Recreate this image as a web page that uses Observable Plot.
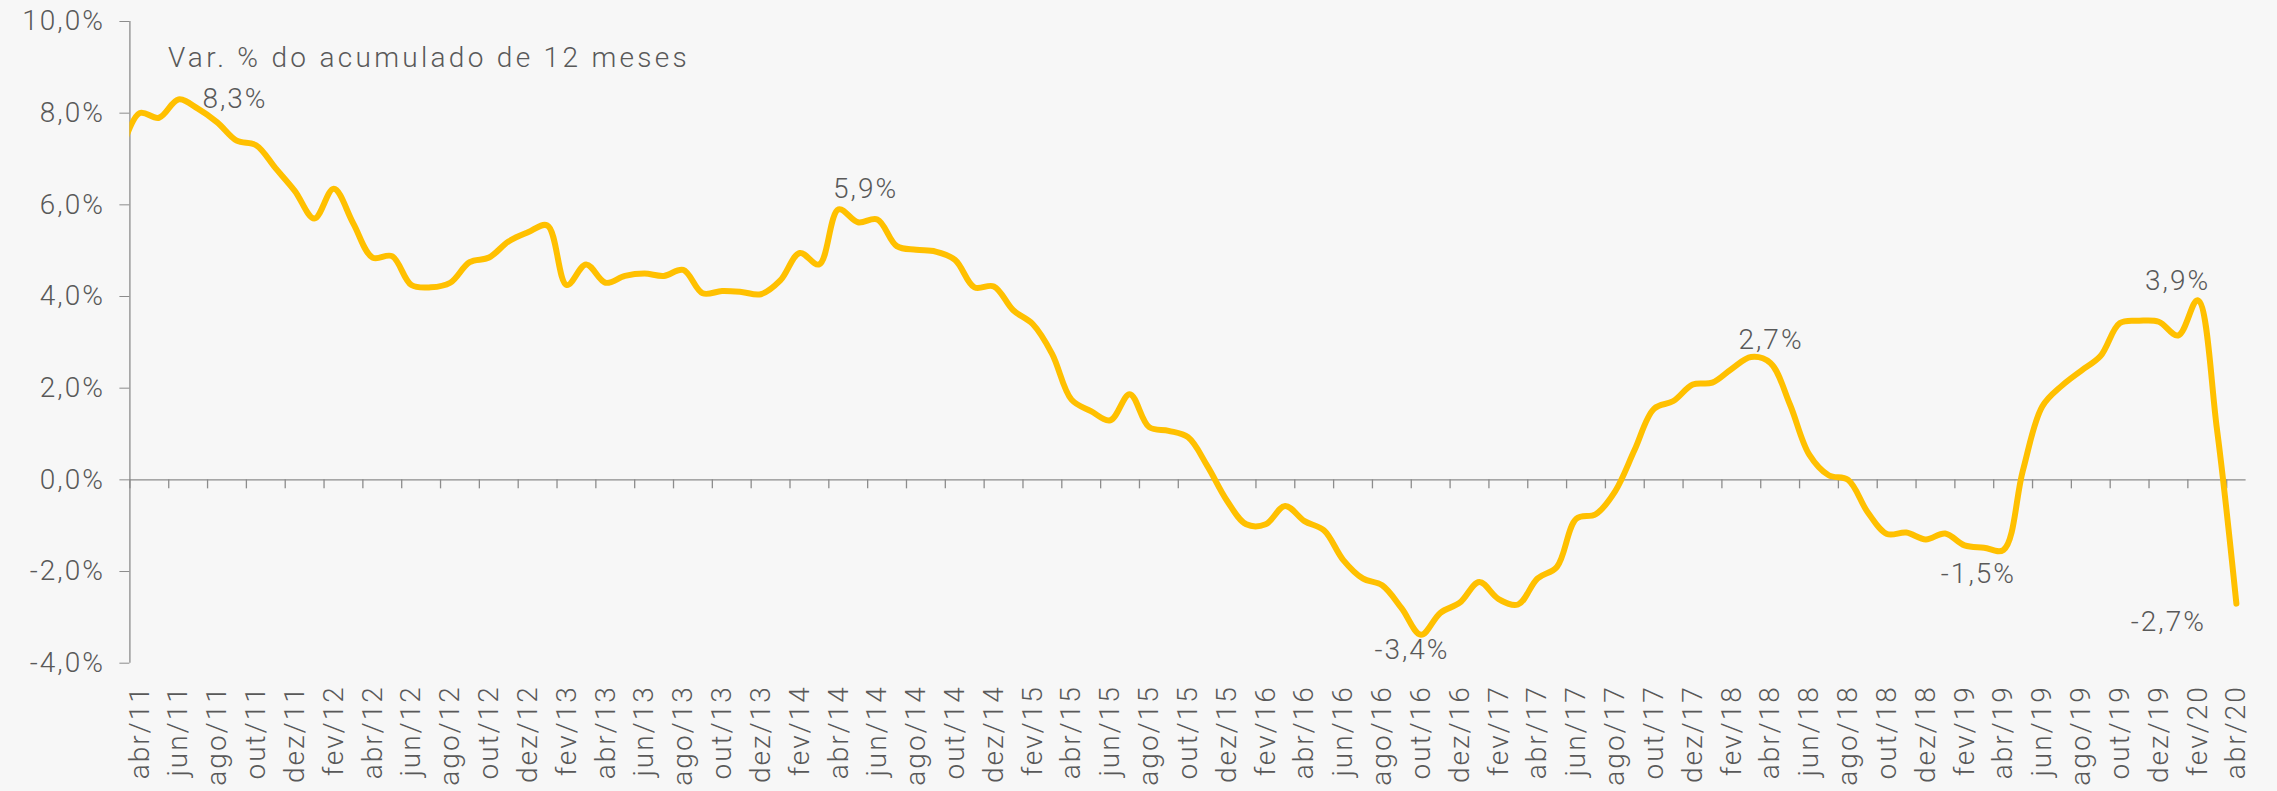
<!DOCTYPE html>
<html>
<head>
<meta charset="utf-8">
<script src="https://cdn.jsdelivr.net/npm/d3@7"></script>
<script src="https://cdn.jsdelivr.net/npm/@observablehq/plot@0.6"></script>
<style>
  html, body { margin: 0; padding: 0; background: #f7f7f7; }
  #chart svg text { letter-spacing: 2px; }
  #chart svg g.chart-title text { letter-spacing: 3.3px; }
</style>
</head>
<body>
<div id="chart"></div>
<script>
// ---- data ----
const monthNames = ["jan", "fev", "mar", "abr", "mai", "jun", "jul", "ago", "set", "out", "nov", "dez"];
// Var. % do acumulado de 12 meses (2011 starts at mar/11, which sits just left of the axis)
const v2011 = [7.1, 8.0, 7.9, 8.3, 8.1, 7.8, 7.4, 7.3, 6.8, 6.3];
const v2012 = [5.7, 6.35, 5.6, 4.85, 4.88, 4.25, 4.2, 4.3, 4.75, 4.85, 5.2, 5.4];
const v2013 = [5.55, 4.25, 4.7, 4.3, 4.45, 4.5, 4.45, 4.58, 4.07, 4.12, 4.1, 4.05];
const v2014 = [4.35, 4.95, 4.7, 5.9, 5.62, 5.68, 5.1, 5.02, 4.98, 4.8, 4.2, 4.22];
const v2015 = [3.7, 3.4, 2.75, 1.75, 1.5, 1.3, 1.87, 1.15, 1.07, 0.93, 0.3, -0.45];
const v2016 = [-0.97, -0.97, -0.57, -0.9, -1.1, -1.75, -2.15, -2.3, -2.8, -3.38, -2.9, -2.68];
const v2017 = [-2.23, -2.6, -2.72, -2.15, -1.9, -0.85, -0.75, -0.25, 0.65, 1.55, 1.72, 2.08];
const v2018 = [2.12, 2.42, 2.68, 2.55, 1.65, 0.55, 0.1, 0.0, -0.7, -1.18, -1.15, -1.3];
const v2019 = [-1.17, -1.43, -1.48, -1.53, 0.2, 1.6, 2.05, 2.38, 2.7, 3.42, 3.47, 3.45];
const v2020 = [3.15, 3.92, 1.1, -2.7];
const yearSeries = [
  {yy: "11", first: 2, values: v2011},
  {yy: "12", first: 0, values: v2012},
  {yy: "13", first: 0, values: v2013},
  {yy: "14", first: 0, values: v2014},
  {yy: "15", first: 0, values: v2015},
  {yy: "16", first: 0, values: v2016},
  {yy: "17", first: 0, values: v2017},
  {yy: "18", first: 0, values: v2018},
  {yy: "19", first: 0, values: v2019},
  {yy: "20", first: 0, values: v2020}
];
const yTicks = [-4, -2, 0, 2, 4, 6, 8, 10];
const title = "Var. % do acumulado de 12 meses";

// ---- build table ----
const data = [];
yearSeries.forEach(s => s.values.forEach((v, k) => {
  data.push({label: monthNames[s.first + k] + "/" + s.yy, v});
}));
data.forEach((d, j) => d.i = j - 1); // abr/11 -> 0
const shown = data.filter(d => d.i >= 0);
const axisLabels = shown.filter(d => d.i % 2 === 0);
const boundaries = axisLabels.map(d => d.i - 0.5);
const nCat = shown.length;
const fmt = v => v.toFixed(1).replace(".", ",") + "%";
const pt = lab => data.filter(d => d.label === lab);

const textColor = "#595959";
const axisColor = "#8c8c8c";
const fs = 28;

function note(lab, dx, dy, anchor = "middle") {
  return Plot.text(pt(lab), {x: "i", y: "v", text: d => fmt(d.v), dx, dy,
    textAnchor: anchor, lineAnchor: "middle", fill: textColor, fontSize: fs, fontWeight: 300});
}

const chart = Plot.plot({
  width: 2277,
  height: 791,
  marginTop: 21,
  marginBottom: 128.3,
  marginLeft: 129.4,
  marginRight: 31.4,
  style: {background: "#f7f7f7", fontFamily: "Roboto, 'Open Sans', sans-serif", fontWeight: 300, fontSize: fs + "px", color: textColor},
  x: {domain: [-0.5, nCat - 0.5], axis: null},
  y: {domain: [-4, 10], axis: null},
  marks: [
    Plot.axisY({ticks: yTicks, tickFormat: fmt, tickSize: 10, tickPadding: 15, stroke: axisColor, fill: textColor, fontSize: fs, fontWeight: 300, label: null}),
    Plot.ruleX([-0.5], {y1: yTicks[0], y2: yTicks[yTicks.length - 1], stroke: axisColor, strokeWidth: 1.3}),
    Plot.ruleY([0], {stroke: axisColor, strokeWidth: 1.3}),
    Plot.ruleX(boundaries, {x: d => d, y1: 0, y2: 0, insetBottom: -9, stroke: axisColor, strokeWidth: 1.3}),
    Plot.line(data, {x: "i", y: "v", stroke: "#FFC000", strokeWidth: 6, curve: "catmull-rom", clip: true, strokeLinecap: "round", strokeLinejoin: "round"}),
    Plot.text(axisLabels, {x: "i", y: () => yTicks[0], text: "label", rotate: -90, textAnchor: "end", lineAnchor: "middle", dy: 22, fill: textColor, fontSize: fs, fontWeight: 300}),
    Plot.text([title], {frameAnchor: "top-left", text: d => d, dx: 38, dy: 37, textAnchor: "start", lineAnchor: "middle", fill: textColor, fontSize: fs, fontWeight: 300, className: "chart-title"}),
    note("jun/11", 24, 0, "start"),
    note("abr/14", 27, -20),
    note("out/16", -9, 15),
    note("mar/18", 20, -17),
    note("abr/19", -25, 24),
    note("fev/20", -20, -19),
    note("abr/20", -68, 18)
  ]
});
document.getElementById("chart").append(chart);
</script>
</body>
</html>
